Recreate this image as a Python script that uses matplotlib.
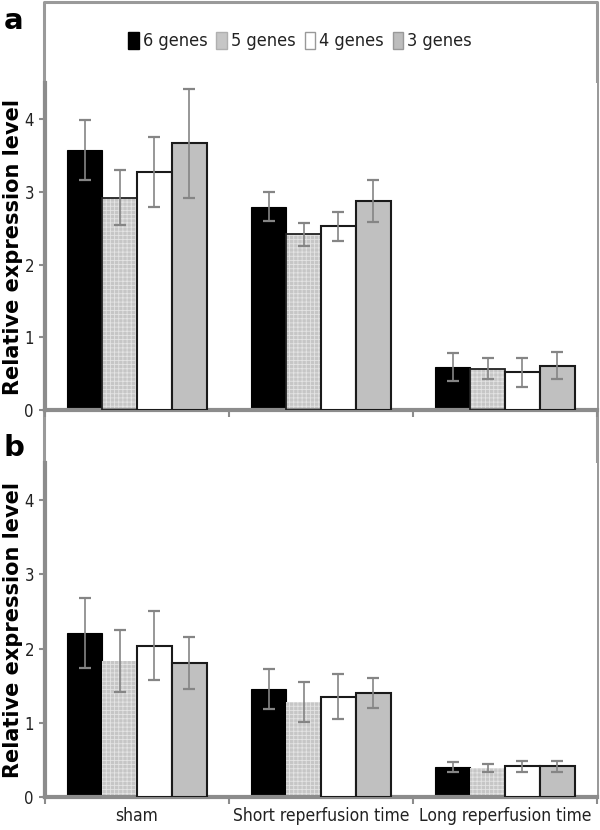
import numpy as np
import matplotlib
matplotlib.use('Agg')
import matplotlib.pyplot as plt
from matplotlib.patches import Patch
from matplotlib.lines import Line2D

# data
groups = ['sham', 'Short reperfusion time', 'Long reperfusion time']
series = ['6 genes', '5 genes', '4 genes', '3 genes']

a_vals = [[3.58, 2.80, 0.59],
          [2.92, 2.42, 0.57],
          [3.28, 2.53, 0.52],
          [3.67, 2.88, 0.61]]
a_err = [[0.41, 0.20, 0.19],
         [0.38, 0.16, 0.15],
         [0.48, 0.20, 0.20],
         [0.75, 0.29, 0.19]]

b_vals = [[2.21, 1.45, 0.40],
          [1.83, 1.28, 0.39],
          [2.04, 1.35, 0.41],
          [1.81, 1.40, 0.41]]
b_err = [[0.47, 0.27, 0.07],
         [0.42, 0.27, 0.055],
         [0.47, 0.30, 0.075],
         [0.35, 0.20, 0.075]]

yticks = [0, 1, 2, 3, 4]

face = ['black', '#c6c6c6', 'white', '#c0c0c0']
GRAY = '#8c8c8c'
width = 0.19

plt.rcParams['font.family'] = ['DejaVu Sans']
plt.rcParams['hatch.linewidth'] = 0.6

fig = plt.figure(figsize=(6, 8.3), dpi=100)
ax_a = fig.add_axes([0.075, 0.506, 0.92, 0.394])
ax_b = fig.add_axes([0.075, 0.040, 0.92, 0.402])

x = np.arange(len(groups))


def draw(ax, vals, errs, panel_a):
    for k in range(4):
        pos = x + (k - 1.5) * width
        if k == 1:
            # dotted light gray texture
            ax.bar(pos, vals[k], width, color=face[k], edgecolor='#e4e4e4',
                   hatch='++++', linewidth=0, zorder=2)
            if panel_a:
                ax.bar(pos, vals[k], width, fill=False, edgecolor='#222222',
                       linewidth=1.3, zorder=3)
        elif k == 0:
            ax.bar(pos, vals[k], width, color='black', edgecolor='black',
                   linewidth=0.8, zorder=2)
        else:
            ax.bar(pos, vals[k], width, color=face[k], edgecolor='#1a1a1a',
                   linewidth=1.5, zorder=3)
        ax.errorbar(pos, vals[k], yerr=errs[k], fmt='none', ecolor='#858585',
                    elinewidth=1.2, capsize=4.5, capthick=1.6, zorder=4)

    ax.set_xlim(-0.5, 2.5)
    ax.set_ylim(0, 4.5)
    ax.set_yticks(yticks)
    ax.set_xticks([-0.5, 0.5, 1.5, 2.5])
    ax.set_xticklabels([])
    ax.set_xticks(x, minor=True)
    for s in ['top', 'right']:
        ax.spines[s].set_visible(False)
    for s in ['left', 'bottom']:
        ax.spines[s].set_color(GRAY)
        ax.spines[s].set_linewidth(3)
    ax.tick_params(axis='y', colors=GRAY, labelcolor='#222222', labelsize=12,
                   length=4, width=1.5, pad=4)
    ax.tick_params(axis='x', which='major', colors=GRAY, length=5, width=1.5)
    ax.tick_params(axis='x', which='minor', length=0, labelsize=12.5,
                   labelcolor='#222222', pad=7)
    if not panel_a:
        ax.set_xticklabels(groups, minor=True)
    for t in ax.get_yticklabels() + ax.get_xticklabels(minor=True):
        t.set_fontstretch('condensed')


draw(ax_a, a_vals, a_err, True)
draw(ax_b, b_vals, b_err, False)

# y labels
fig.text(0.021, 0.5 * (0.506 + 0.900), 'Relative expression level', rotation=90,
         ha='center', va='center', fontsize=15, fontweight='bold')
fig.text(0.021, 0.5 * (0.040 + 0.442), 'Relative expression level', rotation=90,
         ha='center', va='center', fontsize=15, fontweight='bold')

# panel letters
fig.text(0.006, 1 - 29 / 830, 'a', fontsize=21, fontweight='bold', va='baseline')
fig.text(0.006, 1 - 456 / 830, 'b', fontsize=21, fontweight='bold', va='baseline')

# outer chart frame
fig.add_artist(Line2D([0.074, 0.074, 0.995, 0.995],
                      [0.04, 1 - 2 / 830, 1 - 2 / 830, 0.04],
                      transform=fig.transFigure, color='#9a9a9a', lw=2.2,
                      zorder=0))

# legend
handles = [Patch(facecolor='black', edgecolor='black'),
           Patch(facecolor='#c6c6c6', edgecolor='#b0b0b0'),
           Patch(facecolor='white', edgecolor='#999999'),
           Patch(facecolor='#bdbdbd', edgecolor='#999999')]
leg = fig.legend(handles, series, loc='center', bbox_to_anchor=(0.5, 1 - 41 / 830),
                 ncol=4, frameon=False, fontsize=13, handlelength=0.6,
                 handleheight=1.1, handletextpad=0.2, columnspacing=0.5)
for t in leg.get_texts():
    t.set_fontstretch('condensed')
    t.set_color('#222222')

fig.savefig('out.png', dpi=100)
